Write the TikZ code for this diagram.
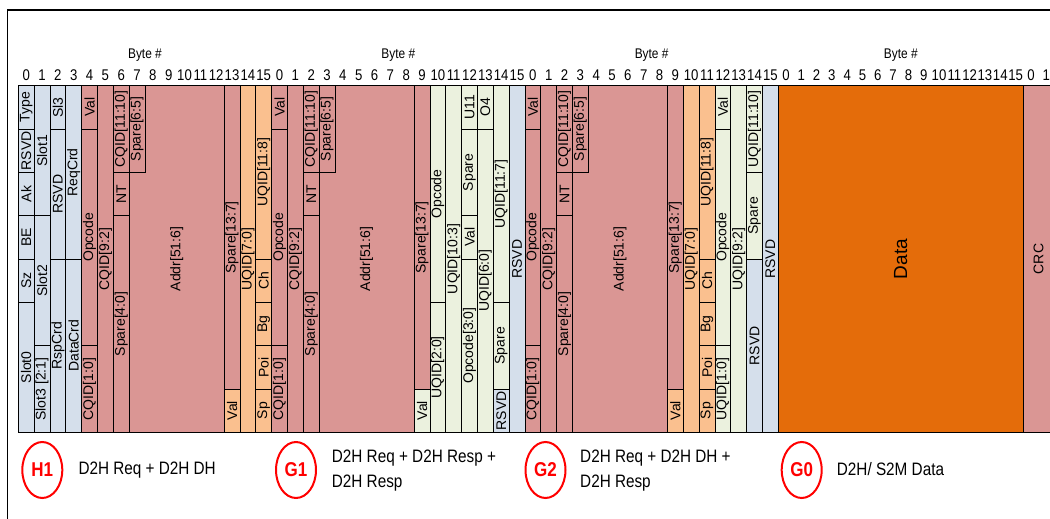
\documentclass[tikz,border=0pt]{standalone}
\usepackage{fontspec}
\setmainfont{Liberation Sans}
\newfontfamily\narrowsf[FakeStretch=0.85]{Liberation Sans}
\usetikzlibrary{shapes.geometric}

\definecolor{hdrblue}{RGB}{213,223,235}
\definecolor{reqpink}{RGB}{218,150,148}
\definecolor{dhpeach}{RGB}{250,192,143}
\definecolor{rspgreen}{RGB}{235,241,222}
\definecolor{datorange}{RGB}{228,108,10}

% one field: name, first col, end col, first bit, end bit, style, text
\newcommand{\fld}[7]{%
  \draw[#6] ({\xo+(#2)*\cw},{\yo+(#4)*\bh}) rectangle ({\xo+(#3)*\cw},{\yo+(#5)*\bh});
  \node[lbl] (#1) at ({\xo+((#2)+(#3))/2*\cw},{\yo+((#4)+(#5))/2*\bh}) {#7};}

% D2H Req, starting at column #1
\newcommand{\dreq}[2]{%
  \fld{#2val}{#1}{#1+1}{0}{1}{req}{Val}
  \fld{#2opc}{#1}{#1+1}{1}{6}{req}{Opcode}
  \fld{#2cqlo}{#1}{#1+1}{6}{8}{req}{CQID[1:0]}
  \fld{#2cqmid}{#1+1}{#1+2}{0}{8}{req}{CQID[9:2]}
  \fld{#2cqhi}{#1+2}{#1+3}{0}{2}{req}{CQID[11:10]}
  \fld{#2nt}{#1+2}{#1+3}{2}{3}{req}{NT}
  \fld{#2splo}{#1+2}{#1+3}{3}{8}{req}{Spare[4:0]}
  \fld{#2addr}{#1+3}{#1+9}{0}{8}{req}{Addr[51:6]}
  \fld{#2spmid}{#1+3}{#1+4}{0}{2}{req}{Spare[6:5]}
  \fld{#2sphi}{#1+9}{#1+10}{0}{7}{req}{Spare[13:7]}}

% D2H DH, UQID column at #1 (Val sits in the column before)
\newcommand{\ddh}[2]{%
  \fld{#2dval}{#1-1}{#1}{7}{8}{dh}{Val}
  \fld{#2uqlo}{#1}{#1+1}{0}{8}{dh}{UQID[7:0]}
  \fld{#2uqhi}{#1+1}{#1+2}{0}{4}{dh}{UQID[11:8]}
  \fld{#2ch}{#1+1}{#1+2}{4}{5}{dh}{Ch}
  \fld{#2bg}{#1+1}{#1+2}{5}{6}{dh}{Bg}
  \fld{#2poi}{#1+1}{#1+2}{6}{7}{dh}{Poi}
  \fld{#2sp}{#1+1}{#1+2}{7}{8}{dh}{Sp}}

\begin{document}
\begin{tikzpicture}[x=1pt,y=-1pt,
    fldbox/.style={draw=black,line width=0.8pt},
    hdr/.style={fldbox,fill=hdrblue},
    req/.style={fldbox,fill=reqpink},
    dh/.style={fldbox,fill=dhpeach},
    rsp/.style={fldbox,fill=rspgreen},
    dat/.style={fldbox,fill=datorange},
    lbl/.style={rotate=90,inner sep=0pt,font=\fontsize{14}{14}\selectfont},
    num/.style={inner sep=0pt,font=\narrowsf\fontsize{15.5}{15.5}\selectfont},
    bytehdr/.style={inner sep=0pt,font=\narrowsf\fontsize{14}{14}\selectfont},
    ovaltag/.style={ellipse,draw=red,line width=2pt,minimum width=40pt,minimum height=56pt,
      inner sep=0pt,text=red,font=\narrowsf\bfseries\fontsize{20}{20}\selectfont},
    note/.style={anchor=west,inner sep=0pt,align=left,font=\narrowsf\fontsize{18}{24.5}\selectfont}]
  \def\xo{18.3};\def\cw{15.833};\def\yo{85.7};\def\bh{43.33};
  \def\xd{778.3};\def\dw{15.31};
  \useasboundingbox (0,0) rectangle (1050,519);
  \clip (0,0) rectangle (1050,519);
  \draw[line width=1.2pt] (7.3,530) -- (7.3,10) -- (1060,10);

  % byte numbers
  \foreach \f in {0,1,2} \node[bytehdr] (byte\f) at ({\xo+(16*\f+8)*\cw},55) {Byte \#};
  \node[bytehdr] (byte3) at ({\xd+8*\dw},55) {Byte \#};
  \foreach \g in {0,...,47}{
    \pgfmathtruncatemacro\bn{mod(\g,16)}
    \node[num] (n\g) at ({\xo+(\g+0.5)*\cw},75.5) {\bn};}
  \foreach \k in {0,...,17}{
    \pgfmathtruncatemacro\bn{mod(\k,16)}
    \node[num] (m\k) at ({\xd+(\k+0.5)*\dw},75.5) {\bn};}

  % H1: flit header + D2H Req + D2H DH
  \fld{type}{0}{1}{0}{1}{hdr}{Type}
  \fld{hrsvd}{0}{1}{1}{2}{hdr}{RSVD}
  \fld{ak}{0}{1}{2}{3}{hdr}{Ak}
  \fld{be}{0}{1}{3}{4}{hdr}{BE}
  \fld{sz}{0}{1}{4}{5}{hdr}{Sz}
  \fld{slot0}{0}{1}{5}{8}{hdr}{Slot0}
  \fld{slot1}{1}{2}{0}{3}{hdr}{Slot1}
  \fld{slot2}{1}{2}{3}{6}{hdr}{Slot2}
  \fld{slot3}{1}{2}{6}{8}{hdr}{Slot3 [2:1]}
  \fld{sl3}{2}{3}{0}{1}{hdr}{Sl3}
  \fld{hrsvdb}{2}{3}{1}{4}{hdr}{RSVD}
  \fld{rspcrd}{2}{3}{4}{8}{hdr}{RspCrd}
  \fld{reqcrd}{3}{4}{0}{4}{hdr}{ReqCrd}
  \fld{datacrd}{3}{4}{4}{8}{hdr}{DataCrd}
  \dreq{4}{h1}
  \ddh{14}{h1}

  % G1: D2H Req + 2x D2H Resp
  \dreq{16}{g1}
  \fld{g1rval}{25}{26}{7}{8}{rsp}{Val}
  \fld{g1ropc}{26}{27}{0}{5}{rsp}{Opcode}
  \fld{g1ruqa}{26}{27}{5}{8}{rsp}{UQID[2:0]}
  \fld{g1ruqb}{27}{28}{0}{8}{rsp}{UQID[10:3]}
  \fld{g1ru11}{28}{29}{0}{1}{rsp}{U11}
  \fld{g1rsp}{28}{29}{1}{3}{rsp}{Spare}
  \fld{g1sval}{28}{29}{3}{4}{rsp}{Val}
  \fld{g1sopc}{28}{29}{4}{8}{rsp}{Opcode[3:0]}
  \fld{g1so4}{29}{30}{0}{1}{rsp}{O4}
  \fld{g1suqa}{29}{30}{1}{8}{rsp}{UQID[6:0]}
  \fld{g1suqb}{30}{31}{0}{5}{rsp}{UQID[11:7]}
  \fld{g1ssp}{30}{31}{5}{7}{rsp}{Spare}
  \fld{g1rsvda}{30}{31}{7}{8}{hdr}{RSVD}
  \fld{g1rsvdb}{31}{32}{0}{8}{hdr}{RSVD}

  % G2: D2H Req + D2H DH + D2H Resp
  \dreq{32}{g2}
  \ddh{42}{g2}
  \fld{g2rval}{44}{45}{0}{1}{rsp}{Val}
  \fld{g2ropc}{44}{45}{1}{6}{rsp}{Opcode}
  \fld{g2ruqa}{44}{45}{6}{8}{rsp}{UQID[1:0]}
  \fld{g2ruqb}{45}{46}{0}{8}{rsp}{UQID[9:2]}
  \fld{g2ruqc}{46}{47}{0}{2}{rsp}{UQID[11:10]}
  \fld{g2rsp}{46}{47}{2}{4}{rsp}{Spare}
  \fld{g2rsvda}{46}{47}{4}{8}{hdr}{RSVD}
  \fld{g2rsvdb}{47}{48}{0}{8}{hdr}{RSVD}

  % G0: data, then CRC
  \draw[dat] (\xd,\yo) rectangle ({\xd+16*\dw},{\yo+8*\bh});
  \node[lbl,font=\fontsize{19}{19}\selectfont] (data) at ({\xd+8*\dw},{\yo+4*\bh}) {Data};
  \draw[req] ({\xd+16*\dw},\yo) rectangle (1070,{\yo+8*\bh});
  \node[lbl] (crc) at ({\xd+17*\dw},{\yo+4*\bh}) {CRC};

  % legend
  \node[ovaltag] (h1) at (42.3,470) {H1};
  \node[note] (h1txt) at (78.3,470) {D2H Req + D2H DH};
  \node[ovaltag] (g1) at (296,470) {G1};
  \node[note] (g1txt) at (331.7,470.4) {D2H Req + D2H Resp +\\D2H Resp};
  \node[ovaltag] (g2) at (545.5,470) {G2};
  \node[note] (g2txt) at (580,470.4) {D2H Req + D2H DH +\\D2H Resp};
  \node[ovaltag] (g0) at (801.7,470) {G0};
  \node[note] (g0txt) at (836.7,469) {D2H/ S2M Data};
\end{tikzpicture}
\end{document}
